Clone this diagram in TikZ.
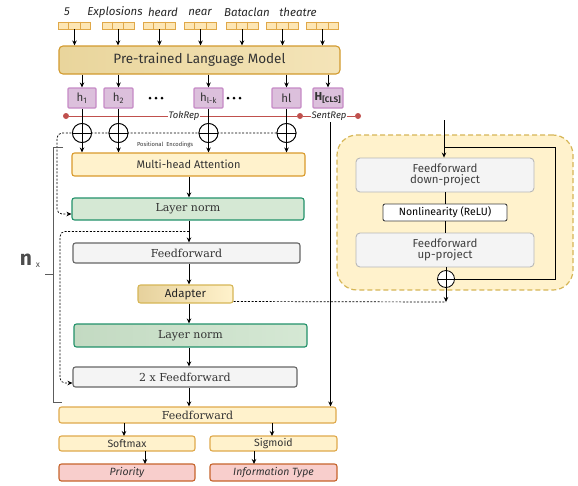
\documentclass[tikz,border=0pt]{standalone}
\usepackage{fontspec}
\setmainfont{DejaVu Serif}
\setsansfont{Fira Sans}
\usetikzlibrary{arrows.meta,calc}

\definecolor{tokfill}{HTML}{FDE6B4}
\definecolor{tokdraw}{HTML}{E0A848}
\definecolor{plmA}{HTML}{E9D59C}
\definecolor{plmB}{HTML}{F4E4B8}
\definecolor{plmdraw}{HTML}{D29A2E}
\definecolor{hfill}{HTML}{DCC0DC}
\definecolor{hdraw}{HTML}{C68AC6}
\definecolor{yelfill}{HTML}{FFF2CC}
\definecolor{orgdraw}{HTML}{D99A2B}
\definecolor{golddraw}{HTML}{D6B656}
\definecolor{grnfill}{HTML}{D5E8D4}
\definecolor{grnfillB}{HTML}{C3DAC2}
\definecolor{grndraw}{HTML}{22916A}
\definecolor{gryfill}{HTML}{F4F4F4}
\definecolor{grydraw}{HTML}{666666}
\definecolor{ltgrydraw}{HTML}{B8B8B8}
\definecolor{redfill}{HTML}{F8CECC}
\definecolor{reddraw}{HTML}{C6642C}
\definecolor{repline}{HTML}{C0504D}
\definecolor{txt}{HTML}{333333}
\definecolor{adaptA}{HTML}{E6D19C}

\newcommand\fsz[1]{\fontsize{#1}{#1}\selectfont}

\tikzset{
  box/.style={draw, rounded corners=2.5pt, line width=1.1pt, inner sep=0pt,
    align=center, text=txt},
  tokbox/.style={draw=tokdraw, fill=tokfill, line width=0.9pt, inner sep=0pt,
    minimum width=32pt, minimum height=7pt},
  word/.style={font=\sffamily\itshape\fsz{11.5}, text=black!85, inner sep=0pt},
  hbox/.style={box, rounded corners=1pt, draw=hdraw, fill=hfill,
    minimum height=20pt, font=\sffamily\fsz{11.5}, text=black!80},
  conn/.style={line width=0.8pt, -{Stealth[length=5pt,width=4.5pt]}},
  plain/.style={line width=0.8pt},
  resid/.style={line width=0.7pt, dash pattern=on 2pt off 1.6pt},
  oplus/.style={circle, draw, fill=white, minimum size=19pt, inner sep=0pt,
    line width=0.8pt,
    path picture={\draw[line width=0.8pt]
      (path picture bounding box.north) -- (path picture bounding box.south)
      (path picture bounding box.west) -- (path picture bounding box.east);}},
  repdot/.style={circle, fill=repline, inner sep=0pt, minimum size=6pt},
  replabel/.style={font=\sffamily\itshape\fsz{9.5}, fill=white, inner sep=1pt,
    text=black!85},
}

\begin{document}
\begin{tikzpicture}[x=1pt, y=-1pt]
\useasboundingbox (0,0) rectangle (578,485);

% ---- input tokens and their embeddings ----
\foreach \n/\bx in {1/74.5, 2/118, 3/159.5, 4/200.5, 5/242, 6/282.5, 7/322.5} {
  \node[tokbox] (tok\n) at (\bx,25.5) {};
  \draw[tokdraw, line width=0.8pt]
    ([xshift=10.67pt]tok\n.north west) -- ([xshift=10.67pt]tok\n.south west)
    ([xshift=-10.67pt]tok\n.north east) -- ([xshift=-10.67pt]tok\n.south east);
}
\node[word] (w1) at (67,12) {5};
\node[word] (w2) at (115,12) {Explosions};
\node[word] (w3) at (163,12) {heard};
\node[word] (w4) at (200,12) {near};
\node[word] (w5) at (247,12) {Bataclan};
\node[word] (w6) at (298,12) {theatre};

% ---- encoder ----
\node[box, draw=plmdraw, left color=plmA, right color=plmB, rounded corners=4pt,
  minimum width=281pt, minimum height=28pt, font=\sffamily\fsz{13.5}]
  (plm) at (199.5,60) {Pre-trained Language Model};
\foreach \n in {1,...,7} \draw[conn] (tok\n.south) -- (tok\n.south |- plm.north);

% ---- hidden states ----
\node[hbox, minimum width=28pt] (h1) at (82,98) {h\textsubscript{1}};
\node[hbox, minimum width=29pt] (h2) at (118.5,98) {h\textsubscript{2}};
\node[hbox, minimum width=29pt] (hlk) at (208.5,98) {h\textsubscript{l-k}};
\node[hbox, minimum width=29pt] (hl) at (286.5,98) {hl};
\node[hbox, minimum width=30pt, font=\sffamily\bfseries\fsz{11.5}] (hcls) at (328,98)
  {H\textsubscript{[CLS]}};
\foreach \h in {h1,h2,hlk,hl,hcls} \draw[conn] (plm.south -| \h.north) -- (\h.north);
\foreach \cx in {156,234} \foreach \d in {-6,0,6}
  \fill (\cx+\d,98) circle (1.5pt);

% ---- token / sentence representations ----
\node[repdot] (tokl) at (66,116) {};
\node[repdot] (tokr) at (300,116) {};
\node[repdot] (sentr) at (358,116) {};
\draw[repline, line width=0.8pt] (tokl) -- (tokr) -- (sentr);
\node[replabel] (tokrep) at (184,116) {TokRep};
\node[replabel] (sentrep) at (329,116) {SentRep};

% ---- positional encodings ----
\node[oplus] (p1) at (82,133) {};
\node[oplus] (p2) at (118.5,133) {};
\node[oplus] (p3) at (208.5,133) {};
\node[oplus] (p4) at (286.5,133) {};
\node[font=\sffamily\fsz{5.8}, text=txt, inner sep=0pt] (pe) at (165,145)
  {Positional\ \ Encodings};

% ---- transformer layer ----
\coordinate (spine) at (189,0);
\node[box, draw=orgdraw, fill=yelfill, minimum width=233pt, minimum height=23pt,
  font=\sffamily\fsz{11}] (mha) at (188.5,164.5) {Multi-head Attention};
\node[box, draw=grndraw, fill=grnfill, minimum width=232pt, minimum height=22pt,
  font=\fsz{11}] (ln1) at (188,209) {Layer norm};
\node[box, draw=grydraw, fill=gryfill, minimum width=227pt, minimum height=20pt,
  font=\fsz{11}] (ff1) at (186.5,253) {Feedforward};
\node[box, draw=golddraw, left color=adaptA, right color=yelfill,
  minimum width=95pt, minimum height=18pt, font=\sffamily\fsz{11.5}, text=black!85]
  (adapter) at (185.5,294) {Adapter};
\node[box, draw=grndraw, left color=grnfillB, right color=grnfill,
  minimum width=233pt, minimum height=23pt, font=\fsz{11}] (ln2) at (190.5,335.5)
  {Layer norm};
\node[box, draw=grydraw, fill=gryfill, minimum width=224pt, minimum height=20pt,
  font=\fsz{11}] (ff2) at (185,377) {2 x Feedforward};

% ---- output heads ----
\node[box, draw=orgdraw!85, fill=yelfill, minimum width=277pt, minimum height=16pt,
  font=\fsz{11}] (ffo) at (197.5,415) {Feedforward};
\node[box, draw=orgdraw!85, fill=yelfill, minimum width=136pt, minimum height=15pt,
  font=\sffamily\fsz{10.5}] (soft) at (127,443.5) {Softmax};
\node[box, draw=orgdraw!85, fill=yelfill, minimum width=127pt, minimum height=15pt,
  font=\sffamily\fsz{10.5}] (sig) at (273.5,443.5) {Sigmoid};
\node[box, draw=reddraw, fill=redfill, minimum width=136pt, minimum height=17pt,
  font=\sffamily\itshape\fsz{10.5}] (prio) at (127,472.5) {Priority};
\node[box, draw=reddraw, fill=redfill, minimum width=127pt, minimum height=17pt,
  font=\sffamily\itshape\fsz{10.5}] (info) at (273.5,472.5) {Information Type};

% ---- residual connections ----
\draw[resid, rounded corners=5pt, -{Stealth[length=5pt,width=4.5pt]}]
  (p4.west) -- (57,133) -- (57,214) -- ([yshift=-5pt]ln1.west);
\coordinate (r2) at ($(ln1.south)!0.5!(ln1.south |- ff1.north)$);
\draw[resid, rounded corners=5pt, -{Stealth[length=5pt,width=4.5pt]}]
  (r2 -| spine) -- (60,231.5) -- (60,383) -- ([yshift=-6pt]ff2.west);
\foreach \p in {p1,p2,p3,p4} \node[oplus] at (\p) {};

% ---- vertical flow ----
\foreach \h/\p in {h1/p1,h2/p2,hlk/p3,hl/p4} {
  \draw[plain] (\h.south) -- (\p.north);
  \draw[conn] (\p.south) -- (\p.south |- mha.north);
}
\draw[conn] (spine |- mha.south) -- (spine |- ln1.north);
\draw[conn] (spine |- ln1.south) -- (spine |- ff1.north);
\draw[conn] (spine |- ff1.south) -- (spine |- adapter.north);
\draw[conn] (spine |- adapter.south) -- (spine |- ln2.north);
\draw[conn] (spine |- ln2.south) -- (spine |- ff2.north);
\draw[conn] (spine |- ff2.south) -- (spine |- ffo.north);
\coordinate (srtop) at (330.5,122);
\draw[conn] (srtop) -- (srtop |- ffo.north);
\draw[conn] (124,423) -- (124,436);
\draw[conn] (272,423) -- (272,436);
\draw[conn] (145,451) -- (145,464);
\draw[conn] (254,451) -- (254,464);

% ---- layer repetition bracket ----
\draw[grydraw!90!black, line width=1pt] (63,147) -- (53,147) -- (53,402) -- (62,402);
\draw[grydraw!90!black, line width=1pt] (45,274) -- (53,274);
\node[font=\sffamily\bfseries\fsz{21}, text=black!70, inner sep=0pt] (nlab) at (26,260) {n};
\node[font=\sffamily\fsz{8.5}, text=black!70, inner sep=0pt] (xlab) at (38,265) {x};

% ---- adapter module ----
\node[draw=golddraw, fill=yelfill, line width=1.2pt, dash pattern=on 5pt off 3pt,
  rounded corners=20pt, minimum width=236pt, minimum height=155pt, inner sep=0pt]
  (adbox) at (455,212.5) {};
\node[box, draw=ltgrydraw, fill=gryfill, line width=0.9pt, rounded corners=4pt,
  minimum width=178pt, minimum height=34pt, font=\sffamily\fsz{11.5}, text=black!75]
  (ffdown) at (445,175) {Feedforward\\[-1pt]down-project};
\node[box, draw=black!75, fill=white, line width=0.9pt, rounded corners=2pt,
  minimum width=124pt, minimum height=17pt, font=\sffamily\fsz{10.5}, text=black]
  (nonlin) at (445,212.5) {Nonlinearity (ReLU)};
\node[box, draw=ltgrydraw, fill=gryfill, line width=0.9pt, rounded corners=4pt,
  minimum width=178pt, minimum height=34pt, font=\sffamily\fsz{11.5}, text=black!75]
  (ffup) at (445,250) {Feedforward\\[-1pt]up-project};
\node[oplus, minimum size=17pt] (padd) at (446,279) {};
\coordinate (adin) at (444,120);
\coordinate (adout) at (446,302);
\draw[conn] (adin) -- (adin |- ffdown.north);
\draw[plain] (444,147) -- (555,147) -- (555,279) -- (padd.east);
\draw[plain] (ffdown.south) -- (nonlin.north);
\draw[plain] (nonlin.south) -- (ffup.north);
\draw[plain] (ffup.south -| padd) -- (padd.north);
\draw[conn] (padd.south) -- (adout);
\draw[resid] ([yshift=-7.5pt]adapter.east) -- (adout);
\end{tikzpicture}
\end{document}
